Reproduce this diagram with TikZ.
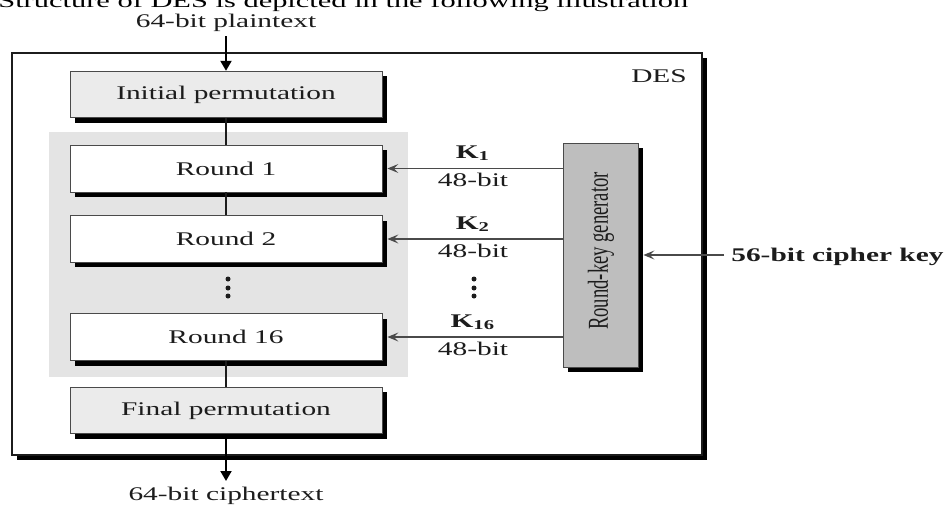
\documentclass[tikz,border=0pt]{standalone}
\usepackage{fontspec}
\setmainfont{Liberation Serif}
\usepackage{graphicx}
\usetikzlibrary{arrows.meta,shadows}

% all lettering in this figure is set wide
\newcommand{\wide}[1]{\scalebox{1.52}[1]{#1}}

\definecolor{permfill}{HTML}{EBEBEB}
\definecolor{roundbg}{HTML}{E4E4E4}
\definecolor{genfill}{HTML}{BEBEBE}
\definecolor{edge}{HTML}{4A4A4A}
\definecolor{ink}{HTML}{1C1C1C}

\begin{document}
\begin{tikzpicture}[x=0.02cm,y=-0.02cm,
  txt/.style={font=\fontsize{11}{13}\selectfont, text=ink, inner sep=0pt},
  shadowed/.style={drop shadow={shadow xshift=0.1cm, shadow yshift=-0.1cm, fill=black, opacity=1}},
  stage/.style={shadowed, draw=edge, line width=0.5pt, minimum width=6.24cm,
    minimum height=0.93cm, inner sep=0pt, txt},
  permbox/.style={stage, fill=permfill},
  roundbox/.style={stage, fill=white},
  link/.style={draw=ink, line width=0.9pt},
  keyarrow/.style={draw=edge, line width=0.7pt, -{Stealth[length=2.2mm,width=1.8mm,inset=0.9mm]}},
  ioarrow/.style={draw=black, line width=1.1pt, -{Triangle[length=2mm,width=2.2mm]}},
  dot/.style={circle, fill=ink, inner sep=0pt, minimum size=0.1cm},
]
\useasboundingbox (0,0) rectangle (950,504);
\clip (0,0) rectangle (950,504);

% caption line above the figure
\node[anchor=base west, inner sep=0pt, font=\fontsize{11}{13}\selectfont] (title) at (-2,7.5)
  {\scalebox{1.575}[1]{Structure of DES is depicted in the following illustration}};

% DES frame and the shaded round area
\node[shadowed, draw=ink, line width=0.8pt, fill=white, minimum width=13.8cm,
  minimum height=8.04cm, inner sep=0pt] (des) at (357,254) {};
\node[txt, anchor=base] (deslabel) at (659,82) {\wide{DES}};
\node[fill=roundbg, minimum width=7.18cm, minimum height=4.9cm, inner sep=0pt] (rounds) at (228.5,254.5) {};

% the stages
\node[permbox] (ip) at (226,94.5) {\wide{Initial permutation}};
\node[roundbox, minimum height=0.94cm] (r1) at (226,168.5) {\wide{Round 1}};
\node[roundbox, minimum height=0.94cm] (r2) at (226,239) {\wide{Round 2}};
\node[roundbox, minimum height=0.94cm] (r16) at (226,337) {\wide{Round 16}};
\node[permbox] (fp) at (226,410.5) {\wide{Final permutation}};

\node[dot] (ld1) at (228,279) {};
\node[dot] (ld2) at (228,288) {};
\node[dot] (ld3) at (228,296) {};

\draw[link] (ip.south) -- (r1.north);
\draw[link] (r1.south) -- (r2.north);
\draw[link] (r16.south) -- (fp.north);

% plaintext in, ciphertext out
\node[txt, anchor=base] (pt) at (226,27) {\wide{64-bit plaintext}};
\coordinate (ptin) at (226,36);
\draw[ioarrow] (ptin) -- (ip.north);
\coordinate (ctout) at (226,481);
\draw[ioarrow] (fp.south) -- (ctout);
\node[txt, anchor=base] (ct) at (226,500) {\wide{64-bit ciphertext}};

% key schedule
\node[shadowed, draw=edge, line width=0.5pt, fill=genfill, minimum width=1.5cm,
  minimum height=4.48cm, inner sep=0pt] (gen) at (600.5,255) {};
\node[txt, rotate=90, font=\fontsize{10.6}{12}\selectfont] (genlabel) at (601,251)
  {\scalebox{1}[1.55]{Round-key generator}};

\draw[keyarrow] (gen.west |- r1.east) -- ([xshift=0.1cm]r1.east);
\draw[keyarrow] (gen.west |- r2.east) -- ([xshift=0.1cm]r2.east);
\draw[keyarrow] (gen.west |- r16.east) -- ([xshift=0.1cm]r16.east);

\node[txt, anchor=base] (k1) at (473,158) {\wide{\textbf{K\textsubscript{1}}}};
\node[txt, anchor=base] (b1) at (473,186) {\wide{48-bit}};
\node[txt, anchor=base] (k2) at (473,229) {\wide{\textbf{K\textsubscript{2}}}};
\node[txt, anchor=base] (b2) at (473,257) {\wide{48-bit}};
\node[txt, anchor=base] (k16) at (473,327) {\wide{\textbf{K\textsubscript{16}}}};
\node[txt, anchor=base] (b16) at (473,355) {\wide{48-bit}};

\node[dot] (rd1) at (474,279) {};
\node[dot] (rd2) at (474,288) {};
\node[dot] (rd3) at (474,296) {};

% cipher key input
\node[txt, anchor=base west] (ck) at (731,261) {\wide{\textbf{56-bit cipher key}}};
\coordinate (ckin) at (724,255);
\draw[keyarrow] (ckin) -- ([xshift=0.1cm]gen.east);
\end{tikzpicture}
\end{document}
